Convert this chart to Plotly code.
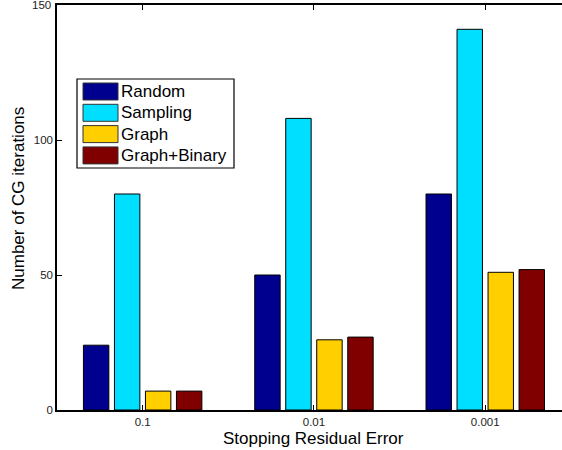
import plotly.graph_objects as go

# Stopping tolerance for each group of bars
categories = ["0.1", "0.01", "0.001"]

# CG iteration counts per method
series_names = ["Random", "Sampling", "Graph", "Graph+Binary"]
random_iters = [24, 50, 80]
sampling_iters = [80, 108, 141]
graph_iters = [7, 26, 51]
graph_binary_iters = [7, 27, 52]
series_values = [random_iters, sampling_iters, graph_iters, graph_binary_iters]
series_colors = ["#00008F", "#00DFFF", "#FFCF00", "#800000"]

y_ticks = [0, 50, 100, 150]
y_tick_text = ["0", "50", "100", "150"]

FONT = "Liberation Sans, Arial, Helvetica, sans-serif"
TICK_FONT = dict(size=11.5, family=FONT, color="#222222")

xpos = list(range(1, len(categories) + 1))

fig = go.Figure()
for name, vals, col in zip(series_names, series_values, series_colors):
    fig.add_trace(go.Bar(
        x=xpos, y=vals, name=name,
        marker=dict(color=col, line=dict(color="#000000", width=1)),
        showlegend=False,
    ))

W, H = 562, 450
ml, mr, mt, mb = 57, 0, 5, 40
px_per_cat = 171.3
xmax = 0.5 + (W - ml - mr) / px_per_cat
pw = W - ml - mr
ph = H - mt - mb


def px_to_paper_x(px):
    return (px - ml) / pw


def px_to_paper_y(py):
    return 1 - (py - mt) / ph


axis_common = dict(
    showline=True, linecolor="#000000", linewidth=1.5,
    ticks="inside", ticklen=5, tickcolor="#000000", tickwidth=1,
    showgrid=False, zeroline=False, tickfont=TICK_FONT,
)

# the top-most y label sits at the frame corner, so it is written as an annotation
y_text_axis = y_tick_text[:-1] + [""]

fig.update_layout(
    width=W, height=H,
    margin=dict(l=ml, r=mr, t=mt, b=mb),
    paper_bgcolor="white", plot_bgcolor="white",
    barmode="group", bargap=0.276, bargroupgap=0.18,
    font=dict(family=FONT, color="#000000"),
    xaxis=dict(range=[0.5, xmax], tickmode="array", tickvals=xpos,
               ticktext=categories, **axis_common),
    # top frame line with inward ticks
    xaxis2=dict(range=[0.5, xmax], tickmode="array", tickvals=xpos,
                overlaying="x", side="top", anchor="y",
                showticklabels=False, **axis_common),
    yaxis=dict(range=[0, 150], tickmode="array", tickvals=y_ticks,
               ticktext=y_text_axis, **axis_common),
)
# invisible trace so the top axis is drawn
fig.add_trace(go.Scatter(x=[xpos[0]], y=[0], xaxis="x2", mode="markers",
                         marker=dict(opacity=0), showlegend=False, hoverinfo="skip"))

fig.add_annotation(
    x=px_to_paper_x(53), xref="paper", y=y_ticks[-1], yref="y",
    xanchor="right", yanchor="middle", text=y_tick_text[-1],
    showarrow=False, font=TICK_FONT,
)

# Axis titles
fig.add_annotation(
    x=2, xref="x", y=px_to_paper_y(438), yref="paper", yanchor="middle",
    text="Stopping Residual Error", showarrow=False,
    font=dict(size=17, family=FONT, color="#000000"),
)
fig.add_annotation(
    x=px_to_paper_x(19), xref="paper", y=px_to_paper_y(199), yref="paper",
    xanchor="center", yanchor="middle", textangle=-90,
    text="Number of CG iterations", showarrow=False,
    font=dict(size=17, family=FONT, color="#000000"),
)

# Legend box drawn in paper coordinates
box_l, box_r, box_t, box_b = 77, 234, 79, 168
fig.add_shape(
    type="rect", xref="paper", yref="paper",
    x0=px_to_paper_x(box_l), x1=px_to_paper_x(box_r),
    y0=px_to_paper_y(box_b), y1=px_to_paper_y(box_t),
    line=dict(color="#000000", width=1.2), fillcolor="white", layer="above",
)
row_h = 21.3
for i, (name, col) in enumerate(zip(series_names, series_colors)):
    top = box_t + 4 + i * row_h
    fig.add_shape(
        type="rect", xref="paper", yref="paper",
        x0=px_to_paper_x(83), x1=px_to_paper_x(118),
        y0=px_to_paper_y(top + 17), y1=px_to_paper_y(top),
        line=dict(color="#333333", width=1), fillcolor=col, layer="above",
    )
    fig.add_annotation(
        xref="paper", yref="paper",
        x=px_to_paper_x(119), y=px_to_paper_y(top + 8.5),
        xanchor="left", yanchor="middle", text=name, showarrow=False,
        font=dict(size=17, family=FONT, color="#000000"),
    )

fig.write_html("out.html")
